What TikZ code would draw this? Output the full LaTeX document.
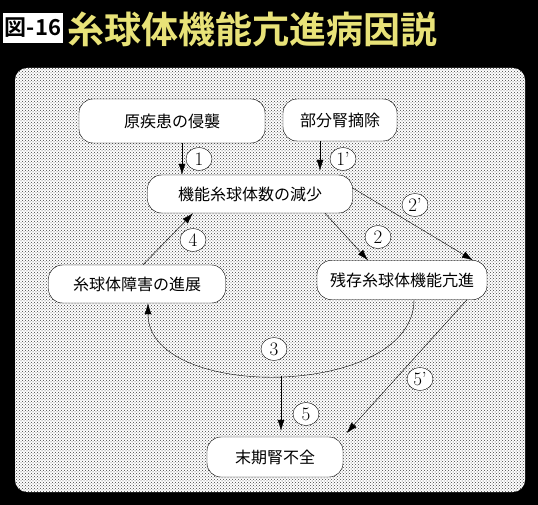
\documentclass[tikz,border=0pt]{standalone}
\usepackage{fontspec}
\newfontfamily\jpfont{Noto Sans CJK JP}
\newfontfamily\jpbold{Noto Sans CJK JP Bold}
\usetikzlibrary{arrows.meta,shapes.geometric,patterns}
\definecolor{titleyellow}{RGB}{232,226,120}

\begin{document}
\begin{tikzpicture}[x=1pt, y=-1pt,
  font=\jpfont\fontsize{16}{18}\selectfont, >={Latex[length=11pt,width=7pt]},
  box/.style={draw, fill=white, rounded corners=14pt, minimum height=39pt, inner sep=2pt},
  num/.style={draw, fill=white, ellipse, minimum width=26pt, minimum height=23pt, inner sep=0pt,
    font=\rmfamily\fontsize{19}{19}\selectfont},
  link/.style={->, thin}]
  \useasboundingbox[fill=black] (0,0) rectangle (538,505);
  \fill[white, rounded corners=12pt] (15,68) rectangle (525,492);
  \fill[pattern=crosshatch dots, pattern color=black!75, rounded corners=12pt] (15,68) rectangle (525,492);
  % title
  \node[fill=white, inner sep=0pt, minimum width=60pt, minimum height=30pt,
    font=\jpbold\fontsize{22}{22}\selectfont] (fig) at (33,28) {図-16};
  \node[anchor=west, inner sep=0pt, text=titleyellow,
    font=\jpbold\fontsize{37}{37}\selectfont] (title) at (67,29) {糸球体機能亢進病因説};
  % boxes
  \node[box, minimum width=186pt, minimum height=44pt] (gen) at (172,121) {原疾患の侵襲};
  \node[box, minimum width=114pt, minimum height=42pt] (bun) at (340,120) {部分腎摘除};
  \node[box, minimum width=205pt, minimum height=38pt] (dec) at (250,194) {機能糸球体数の減少};
  \node[box, minimum width=177pt, minimum height=38pt] (sho) at (137,284) {糸球体障害の進展};
  \node[box, minimum width=170pt] (zan) at (402,280) {残存糸球体機能亢進};
  \node[box, minimum width=136pt, minimum height=40pt] (esrd) at (275,457) {末期腎不全};
  % arrows
  \draw[link] ([xshift=10pt]gen.south) -- ([xshift=10pt]gen.south |- dec.north);
  \draw[link, shorten >=4pt] ([xshift=-20pt]bun.south) -- ([xshift=-20pt]bun.south |- dec.north);
  \draw[link] ([xshift=75pt]dec.south) -- ([xshift=-34pt]zan.north);
  \draw[link] ([yshift=6pt]dec.east) -- ([xshift=71pt]zan.north);
  \draw[link] ([xshift=6pt]sho.north) -- ([xshift=-57pt]dec.south);
  \draw[link] ([xshift=12pt]zan.south) .. controls +(0,99) and +(0,99) .. ([xshift=11pt]sho.south)
    coordinate[pos=0.5] (low);
  \draw[link, shorten >=6pt] (low) -- (low |- esrd.north);
  \draw[link, shorten >=5pt] ([xshift=65pt]zan.south) -- (esrd.north east);
  % numbers
  \node[num] (n1) at (199,159) {1};
  \node[num] (n1p) at (343,159) {1'};
  \node[num] (n2p) at (415,205) {2'};
  \node[num] (n2) at (378,237) {2};
  \node[num] (n4) at (193,240) {4};
  \node[num] (n3) at (274,349) {3};
  \node[num] (n5) at (306,414) {5};
  \node[num] (n5p) at (420,379) {5'};
\end{tikzpicture}
\end{document}
